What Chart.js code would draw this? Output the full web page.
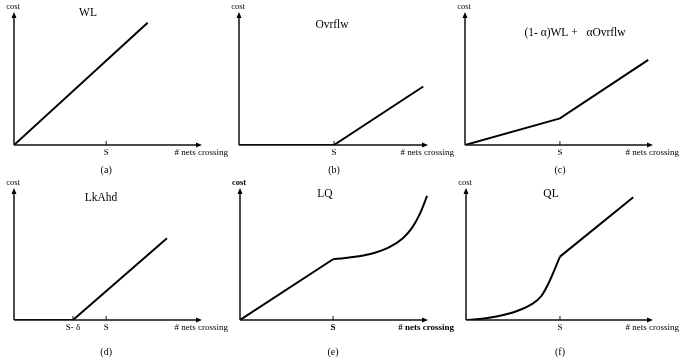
<!DOCTYPE html>
<html>
<head>
<meta charset="utf-8">
<script src="https://cdn.jsdelivr.net/npm/chart.js@4"></script>
<style>
  body { margin: 0; background: #fff; }
  #wrap { position: relative; width: 680px; height: 360px; overflow: hidden; }
  .panel { position: absolute; }
</style>
</head>
<body>
<div id="wrap"></div>
<script>
// dati: x in unita' di S, y in frazione dell'asse
const wlX = [0, 1.45];
const wlY = [0, 0.92];

const ovX = [0, 1, 1.94];
const ovY = [0, 0, 0.44];

const mixX = [0, 1, 1.93];
const mixY = [0, 0.20, 0.64];

const lkX = [0, 0.64, 1.66];
const lkY = [0, 0, 0.62];

const lqLinX = [0, 1];
const lqLinY = [0, 0.46];
const lqCurX = [1, 1.13, 1.40, 1.60, 1.75, 1.85, 1.93, 2.01];
const lqCurY = [0.46, 0.47, 0.50, 0.55, 0.62, 0.70, 0.80, 0.94];

const qlCurX = [0, 0.15, 0.35, 0.55, 0.70, 0.80, 0.88, 1];
const qlCurY = [0, 0.008, 0.03, 0.07, 0.12, 0.18, 0.28, 0.48];
const qlLinX = [1, 1.78];
const qlLinY = [0.48, 0.93];

const tickS = [1];
const tickLabS = ['S'];
const tickLk = [0.64, 1];
const tickLabLk = ['S- δ', 'S'];

const FONT = '"Liberation Serif", "DejaVu Serif", serif';

function punti(xs, ys) {
    return xs.map((x, i) => ({ x: x, y: ys[i] }));
}

// pannelli: posizione sulla pagina e testi
const pannelli = [
    { left: 0,   top: 0,   pad: { left: 14, top: 12, right: 28, bottom: 40 }, xMax: 2.04, title: 'WL', tx: 88, ty: 13, letter: '(a)', lOff: 25,
      series: [{ d: punti(wlX, wlY) }], ticks: tickS, labels: tickLabS },
    { left: 225, top: 0,   pad: { left: 14, top: 12, right: 27, bottom: 40 }, xMax: 1.99, title: 'Ovrflw', tx: 107, ty: 25, letter: '(b)', lOff: 25,
      series: [{ d: punti(ovX, ovY) }], ticks: tickS, labels: tickLabS },
    { left: 450, top: 0,   pad: { left: 15, top: 12, right: 27, bottom: 40 }, xMax: 1.98, title: '(1- α)WL +   αOvrflw', tx: 125, ty: 33, letter: '(c)', lOff: 25,
      series: [{ d: punti(mixX, mixY) }], ticks: tickS, labels: tickLabS },
    { left: 0,   top: 175, pad: { left: 14, top: 13, right: 28, bottom: 40 }, xMax: 2.04, title: 'LkAhd', tx: 101, ty: 23, letter: '(d)', lOff: 32,
      series: [{ d: punti(lkX, lkY) }], ticks: tickLk, labels: tickLabLk },
    { left: 225, top: 175, pad: { left: 15, top: 13, right: 27, bottom: 40 }, xMax: 2.02, title: 'LQ', tx: 100, ty: 19, letter: '(e)', lOff: 32, bold: true,
      series: [{ d: punti(lqLinX, lqLinY) }, { d: punti(lqCurX, lqCurY), curve: true }], ticks: tickS, labels: tickLabS },
    { left: 450, top: 175, pad: { left: 16, top: 13, right: 27, bottom: 40 }, xMax: 1.99, title: 'QL', tx: 101, ty: 19, letter: '(f)', lOff: 32,
      series: [{ d: punti(qlCurX, qlCurY), curve: true }, { d: punti(qlLinX, qlLinY) }], ticks: tickS, labels: tickLabS }
];

// assi con frecce, tacche e scritte
const assiPlugin = {
    id: 'assi',
    afterDraw(chart, args, opts) {
        const p = opts.p;
        const ctx = chart.ctx;
        const a = chart.chartArea;
        const xs = chart.scales.x;
        const peso = p.bold ? 'bold ' : '';
        ctx.save();
        ctx.strokeStyle = '#111';
        ctx.fillStyle = '#000';
        ctx.lineWidth = 1.5;
        ctx.beginPath();
        ctx.moveTo(a.left, a.bottom);
        ctx.lineTo(a.left, a.top + 3);
        ctx.moveTo(a.left, a.bottom);
        ctx.lineTo(a.right - 3, a.bottom);
        ctx.stroke();
        // frecce
        ctx.beginPath();
        ctx.moveTo(a.left, a.top);
        ctx.lineTo(a.left - 2.5, a.top + 6);
        ctx.lineTo(a.left + 2.5, a.top + 6);
        ctx.closePath();
        ctx.fill();
        ctx.beginPath();
        ctx.moveTo(a.right, a.bottom);
        ctx.lineTo(a.right - 6, a.bottom - 2.5);
        ctx.lineTo(a.right - 6, a.bottom + 2.5);
        ctx.closePath();
        ctx.fill();
        // tacche
        ctx.lineWidth = 1;
        ctx.textAlign = 'center';
        ctx.textBaseline = 'middle';
        ctx.font = peso + '9px ' + FONT;
        p.ticks.forEach((t, i) => {
            const px = xs.getPixelForValue(t);
            ctx.beginPath();
            ctx.moveTo(px, a.bottom - 4);
            ctx.lineTo(px, a.bottom);
            ctx.stroke();
            ctx.fillText(p.labels[i], px, a.bottom + 8);
        });
        ctx.textAlign = 'right';
        ctx.fillText('# nets crossing', a.right + 26, a.bottom + 8);
        ctx.textAlign = 'center';
        ctx.font = peso + '8.5px ' + FONT;
        ctx.fillText('cost', a.left - 1, a.top - 5);
        ctx.font = '11.5px ' + FONT;
        ctx.fillText(p.title, p.tx, p.ty);
        ctx.font = '10px ' + FONT;
        ctx.fillText(p.letter, xs.getPixelForValue(1), a.bottom + p.lOff);
        ctx.restore();
    }
};

const wrap = document.getElementById('wrap');
pannelli.forEach(p => {
    const div = document.createElement('div');
    div.className = 'panel';
    div.style.left = p.left + 'px';
    div.style.top = p.top + 'px';
    div.style.width = '230px';
    div.style.height = '185px';
    const cv = document.createElement('canvas');
    div.appendChild(cv);
    wrap.appendChild(div);

    new Chart(cv.getContext('2d'), {
        type: 'line',
        data: {
            datasets: p.series.map(s => ({
                data: s.d,
                borderColor: '#000',
                borderWidth: 2,
                pointRadius: 0,
                fill: false,
                cubicInterpolationMode: s.curve ? 'monotone' : 'default',
                tension: 0
            }))
        },
        options: {
            responsive: true,
            maintainAspectRatio: false,
            animation: false,
            layout: { padding: p.pad },
            plugins: {
                legend: { display: false },
                tooltip: { enabled: false },
                assi: { p: p }
            },
            scales: {
                x: { type: 'linear', display: false, min: 0, max: p.xMax },
                y: { type: 'linear', display: false, min: 0, max: 1 }
            }
        },
        plugins: [assiPlugin]
    });
});
</script>
</body>
</html>
